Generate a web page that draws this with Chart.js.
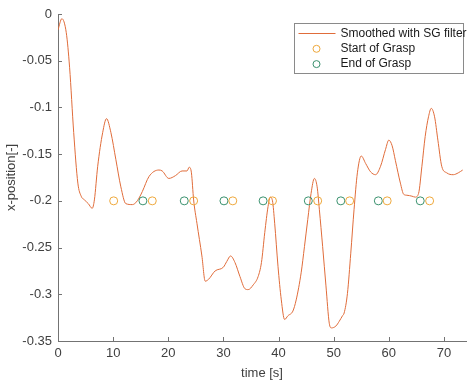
<!DOCTYPE html>
<html>
<head>
<meta charset="utf-8">
<script src="https://cdn.jsdelivr.net/npm/chart.js@4.4.0/dist/chart.umd.min.js"></script>
<style>
  html, body { margin: 0; padding: 0; background: #fff; }
  #wrap { position: relative; width: 471px; height: 383px; }
</style>
</head>
<body>
<div id="wrap"><canvas id="chart"></canvas></div>
<script>
// time [s] and smoothed x-position
const timeValues = [0, 0.7, 1.5, 2.1, 2.85, 3.6, 4.2, 4.8, 5.5, 6.2, 6.6, 7.2, 8.1, 8.8, 9.6, 10.5, 11.4, 12.3, 13.5, 14.1,
  14.7, 15.3, 16.5, 18.3, 18.9, 20.1, 21.3, 22.5, 23.4, 23.8, 24.2, 24.6, 25.2, 26.1, 26.7, 27.3, 28.5, 30.0, 30.6, 31.3,
  32.1, 33.0, 33.9, 34.5, 35.4, 36.3, 36.9, 37.5, 38.1, 38.5, 38.9, 39.3, 39.9, 40.5, 41.1, 41.7, 42.6, 43.2, 44.1, 44.7,
  45.3, 45.9, 46.5, 47.0, 47.4, 48.0, 48.6, 49.2, 49.6, 50.4, 51.0, 51.6, 51.9, 52.5, 53.1, 53.7, 54.3, 55.0, 55.8, 56.7,
  57.6, 58.5, 59.4, 60.0, 60.6, 61.2, 62.1, 62.7, 63.3, 64.2, 64.8, 65.4, 66.0, 66.6, 67.2, 67.7, 68.3, 68.9, 69.6, 70.5,
  71.7, 72.6, 73.4]
const positionValues = [-0.017, -0.005, -0.02, -0.057, -0.127, -0.181, -0.195, -0.199, -0.203, -0.208, -0.199, -0.163, -0.127, -0.112, -0.127, -0.156, -0.185, -0.203, -0.204, -0.202,
  -0.197, -0.19, -0.174, -0.167, -0.168, -0.176, -0.173, -0.168, -0.168, -0.164, -0.170, -0.199, -0.224, -0.259, -0.286, -0.284, -0.275, -0.271, -0.265, -0.259,
  -0.266, -0.281, -0.294, -0.295, -0.290, -0.281, -0.266, -0.234, -0.206, -0.196, -0.200, -0.224, -0.270, -0.306, -0.327, -0.323, -0.318, -0.306, -0.277, -0.249,
  -0.220, -0.192, -0.176, -0.185, -0.209, -0.249, -0.291, -0.331, -0.336, -0.334, -0.329, -0.323, -0.320, -0.299, -0.256, -0.209, -0.170, -0.152, -0.160, -0.169,
  -0.172, -0.163, -0.145, -0.135, -0.141, -0.157, -0.181, -0.193, -0.194, -0.195, -0.196, -0.192, -0.163, -0.131, -0.110, -0.101, -0.110, -0.135, -0.163, -0.170,
  -0.172, -0.170, -0.167]

const graspStartTimes = [10.1, 17.1, 24.6, 31.7, 38.9, 47.1, 52.9, 59.7, 67.4]
const graspEndTimes = [15.4, 22.9, 30.1, 37.2, 45.4, 51.3, 58.1, 65.7]
const markerLevel = -0.2

const xTicks = [0, 10, 20, 30, 40, 50, 60, 70]
const yTicks = [0, -0.05, -0.1, -0.15, -0.2, -0.25, -0.3, -0.35]
const yTickLabels = ['0', '-0.05', '-0.1', '-0.15', '-0.2', '-0.25', '-0.3', '-0.35']

const lineColor = 'rgb(224, 108, 58)'
const startColor = 'rgb(238, 168, 60)'
const endColor = 'rgb(58, 145, 110)'
const axisColor = '#737373'
const textColor = '#404040'
const fontFamily = '"Liberation Sans", Arial, Helvetica, sans-serif'

// MATLAB style: ticks pointing inward + boxed legend
const matlabAxes = {
  id: 'matlabAxes',
  afterDraw(chart) {
    const { ctx, chartArea, scales } = chart
    ctx.save()
    ctx.strokeStyle = axisColor
    ctx.lineWidth = 1
    ctx.beginPath()
    scales.x.ticks.forEach((t, i) => {
      const px = Math.round(scales.x.getPixelForTick(i)) + 0.5
      ctx.moveTo(px, chartArea.bottom)
      ctx.lineTo(px, chartArea.bottom - 4)
    })
    scales.y.ticks.forEach((t, i) => {
      const py = Math.round(scales.y.getPixelForTick(i)) + 0.5
      ctx.moveTo(chartArea.left, py)
      ctx.lineTo(chartArea.left + 4, py)
    })
    ctx.stroke()

    // legend
    const box = { left: 294.5, top: 23.5, width: 169, height: 50 }
    ctx.fillStyle = '#fff'
    ctx.fillRect(box.left, box.top, box.width, box.height)
    ctx.strokeStyle = '#8a8a8a'
    ctx.strokeRect(box.left, box.top, box.width, box.height)
    ctx.font = '12px ' + fontFamily
    ctx.textBaseline = 'middle'
    ctx.textAlign = 'left'
    chart.data.datasets.forEach((ds, i) => {
      const y = box.top + 10 + i * 15.3
      ctx.strokeStyle = ds.borderColor
      ctx.beginPath()
      if (ds.showLine === false) {
        ctx.arc(box.left + 22, y, 3.5, 0, Math.PI * 2)
      } else {
        ctx.moveTo(box.left + 4, y)
        ctx.lineTo(box.left + 41, y)
      }
      ctx.stroke()
      ctx.fillStyle = '#1a1a1a'
      ctx.fillText(ds.label, box.left + 46, y)
    })
    ctx.restore()
  }
}

new Chart(document.getElementById('chart'), {
  type: 'line',
  data: {
    datasets: [{
      label: 'Smoothed with SG filter',
      data: timeValues.map((t, i) => ({ x: t, y: positionValues[i] })),
      borderColor: lineColor,
      borderWidth: 1,
      pointRadius: 0,
      cubicInterpolationMode: 'monotone',
      fill: false,
      order: 3
    }, {
      label: 'Start of Grasp',
      data: graspStartTimes.map(t => ({ x: t, y: markerLevel })),
      showLine: false,
      borderColor: startColor,
      backgroundColor: 'rgba(0,0,0,0)',
      pointRadius: 4,
      pointBorderWidth: 1,
      order: 1
    }, {
      label: 'End of Grasp',
      data: graspEndTimes.map(t => ({ x: t, y: markerLevel })),
      showLine: false,
      borderColor: endColor,
      backgroundColor: 'rgba(0,0,0,0)',
      pointRadius: 4,
      pointBorderWidth: 1,
      order: 2
    }]
  },
  options: {
    responsive: true,
    maintainAspectRatio: false,
    animation: false,
    layout: { padding: { left: 0, right: 2, top: 14, bottom: 0 } },
    plugins: {
      legend: { display: false },
      tooltip: { enabled: false }
    },
    scales: {
      x: {
        type: 'linear',
        min: 0,
        max: 74,
        afterBuildTicks: scale => { scale.ticks = xTicks.map(v => ({ value: v })) },
        afterFit: scale => { scale.height = 42 },
        grid: { drawOnChartArea: false, drawTicks: false, color: axisColor },
        border: { color: axisColor, width: 1 },
        ticks: { color: textColor, padding: 5, maxRotation: 0, font: { size: 13, family: fontFamily } },
        title: { display: true, text: 'time [s]', color: textColor, padding: { top: 0, bottom: 2 }, font: { size: 13, family: fontFamily } }
      },
      y: {
        type: 'linear',
        min: -0.35,
        max: 0,
        afterBuildTicks: scale => { scale.ticks = yTicks.map(v => ({ value: v })) },
        afterFit: scale => { scale.width = 58 },
        grid: { drawOnChartArea: false, drawTicks: false, color: axisColor },
        border: { color: axisColor, width: 1 },
        ticks: {
          color: textColor,
          padding: 6,
          font: { size: 13, family: fontFamily },
          callback: (v, i) => yTickLabels[i]
        },
        title: { display: true, text: 'x-position[-]', color: textColor, padding: { top: 4, bottom: 0 }, font: { size: 13, family: fontFamily } }
      }
    }
  },
  plugins: [matlabAxes]
})
</script>
</body>
</html>
